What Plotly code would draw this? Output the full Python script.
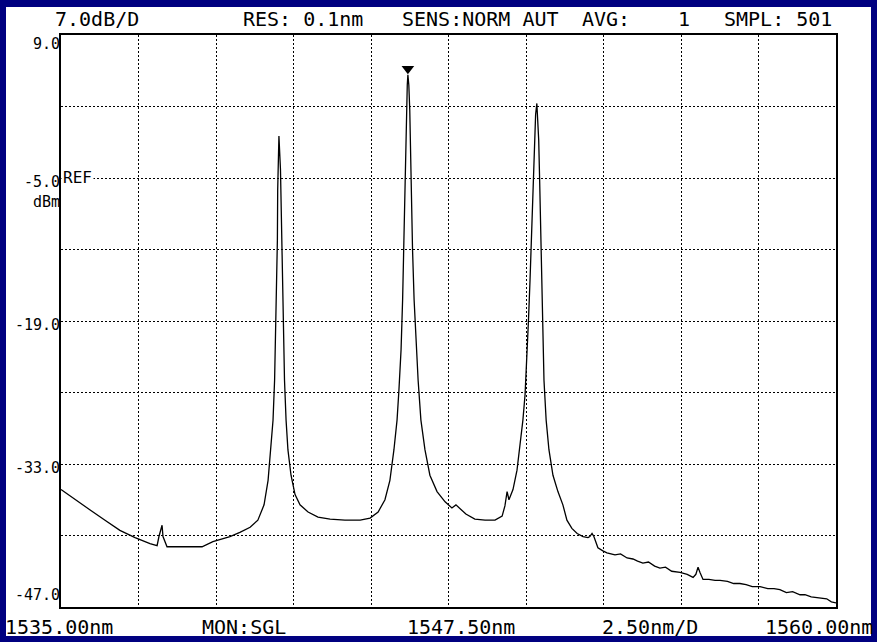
import plotly.graph_objects as go

# ---------------- data ----------------
wavelength_nm = [
    1535.00, 1535.45, 1535.94, 1536.42, 1536.90, 1537.39, 1537.87, 1538.10, 1538.16, 1538.26,
    1538.29, 1538.42, 1539.00, 1539.55, 1539.90, 1540.13, 1540.45, 1540.77, 1541.10, 1541.35,
    1541.55, 1541.68, 1541.77, 1541.84, 1541.89, 1541.92, 1541.95, 1541.98, 1541.99, 1542.01,
    1542.03,
    1542.08, 1542.10, 1542.12, 1542.14, 1542.17, 1542.21, 1542.26, 1542.32, 1542.42, 1542.55,
    1542.71, 1542.97, 1543.29, 1543.68, 1544.16, 1544.65, 1544.97, 1545.23, 1545.45, 1545.61,
    1545.74, 1545.84, 1545.90, 1545.97, 1546.02, 1546.05, 1546.08, 1546.11, 1546.15, 1546.17,
    1546.19,
    1546.22, 1546.25, 1546.27, 1546.31, 1546.34, 1546.39, 1546.45, 1546.52, 1546.61, 1546.74,
    1546.90, 1547.13, 1547.39, 1547.61, 1547.74, 1547.87, 1548.06, 1548.35, 1548.68, 1549.00,
    1549.23, 1549.32, 1549.39, 1549.45, 1549.58, 1549.71, 1549.81, 1549.90, 1549.97, 1550.03,
    1550.08, 1550.13, 1550.18, 1550.23, 1550.27, 1550.31,
    1550.35,
    1550.37, 1550.41, 1550.44, 1550.47, 1550.50, 1550.53, 1550.58, 1550.65, 1550.74, 1550.87,
    1551.03, 1551.19, 1551.32, 1551.48, 1551.65, 1551.84, 1552.00, 1552.06, 1552.13, 1552.19,
    1552.26, 1552.32, 1552.48, 1552.61, 1552.87, 1553.05, 1553.26, 1553.45, 1553.60, 1553.77,
    1553.95, 1554.15, 1554.32, 1554.50, 1554.70, 1554.97, 1555.20, 1555.39, 1555.48, 1555.55,
    1555.61, 1555.71, 1555.90, 1556.10, 1556.26, 1556.50, 1556.70, 1556.90, 1557.10, 1557.30,
    1557.55, 1557.80, 1558.00, 1558.19, 1558.40, 1558.60, 1558.84, 1559.00, 1559.20, 1559.48,
    1559.70, 1559.85, 1560.00,
]
power_dbm = [
    -35.5, -36.5, -37.5, -38.5, -39.5, -40.2, -40.8, -41.0, -40.1, -39.0,
    -40.1, -41.1, -41.1, -41.1, -40.6, -40.4, -40.1, -39.7, -39.2, -38.5,
    -37.0, -34.6, -31.6, -28.7, -24.8, -20.9, -16.0, -11.1, -6.2, -3.2,
    -0.9,
    -4.2, -7.2, -11.1, -16.0, -20.9, -24.8, -28.7, -31.6, -34.1, -36.0,
    -37.0, -37.7, -38.2, -38.4, -38.5, -38.5, -38.3, -37.7, -36.5, -34.6,
    -31.6, -28.7, -25.8, -21.8, -16.9, -12.0, -7.2, -2.3, 1.7, 4.1,
    5.1,
    4.1, 1.7, -2.3, -7.2, -12.0, -16.9, -20.9, -24.8, -28.7, -31.6,
    -34.1, -35.7, -36.7, -37.3, -37.0, -37.4, -37.9, -38.4, -38.5, -38.5,
    -38.1, -37.1, -35.7, -36.5, -35.5, -33.6, -31.1, -28.7, -26.2, -22.8,
    -18.9, -15.0, -10.1, -5.2, -1.3, 1.2,
    2.3,
    1.2, -1.3, -5.2, -10.1, -15.0, -19.9, -24.8, -28.7, -31.6, -34.1,
    -35.7, -37.0, -38.5, -39.3, -39.8, -40.1, -40.2, -40.1, -39.8, -40.1,
    -40.8, -41.2, -41.5, -41.7, -41.9, -41.8, -42.2, -42.3, -42.5, -42.7,
    -42.6, -43.0, -43.2, -43.1, -43.5, -43.6, -43.8, -44.1, -43.8, -43.1,
    -43.6, -44.3, -44.3, -44.4, -44.4, -44.5, -44.7, -44.7, -44.8, -45.0,
    -45.0, -45.2, -45.2, -45.3, -45.6, -45.5, -45.8, -45.8, -46.0, -46.1,
    -46.2, -46.5, -46.6,
]

x_start, x_stop, x_div = 1535.0, 1560.0, 2.5
y_bottom, y_top, y_div = -47.0, 9.0, 7.0
ytick_vals = [9.0, -5.0, -19.0, -33.0, -47.0]
ytick_text = ["9.0", "-5.0", "-19.0", "-33.0", "-47.0"]
ref_level = -5.0
unit_text = "dBm"

header_items = [("7.0dB/D", 53), ("RES: 0.1nm", 241), ("SENS:NORM AUT", 400),
                ("AVG:", 580), ("1", 676), ("SMPL: 501", 722)]
footer_items = [("1535.00nm", 3), ("MON:SGL", 200), ("1547.50nm", 405),
                ("2.50nm/D", 600), ("1560.00nm", 763)]

# ---------------- layout geometry ----------------
W, H = 877, 642
L, R, T, B = 61, 836, 35, 607   # plot area in pixels
PW, PH = R - L, B - T

def px_x(px):
    return (px - L) / PW

def px_y(py):
    return (B - py) / PH

FONT = "DejaVu Sans Mono"
NAVY = "#000080"

fig = go.Figure()
fig.add_trace(go.Scatter(x=wavelength_nm, y=power_dbm, mode="lines",
                         line=dict(color="black", width=1.3), hoverinfo="skip"))

# peak marker
pk = max(range(len(power_dbm)), key=lambda i: power_dbm[i])
fig.add_trace(go.Scatter(x=[wavelength_nm[pk]], y=[power_dbm[pk] + 0.6], mode="markers",
                         marker=dict(symbol="triangle-down", size=11, color="black"),
                         hoverinfo="skip"))

annotations = []
for txt, x in header_items:
    annotations.append(dict(text=txt, x=px_x(x), y=px_y(19), xref="paper", yref="paper",
                            xanchor="left", yanchor="middle", showarrow=False,
                            font=dict(family=FONT, size=20, color="black")))
for txt, x in footer_items:
    annotations.append(dict(text=txt, x=px_x(x), y=px_y(627), xref="paper", yref="paper",
                            xanchor="left", yanchor="middle", showarrow=False,
                            font=dict(family=FONT, size=20, color="black")))
for v, t in zip(ytick_vals, ytick_text):
    if v == y_bottom:
        anc, shift = "bottom", 1
    elif v == y_top:
        anc, shift = "top", 2
    elif v == ref_level:
        anc, shift = "top", 7
        t = t + "<br>" + unit_text
    else:
        anc, shift = "middle", -4
    annotations.append(dict(text=t, x=0, y=v, xref="paper", yref="y",
                            xanchor="right", yanchor=anc, yshift=shift, xshift=1,
                            align="right", showarrow=False,
                            font=dict(family=FONT, size=15, color="black")))
annotations.append(dict(text="REF", x=0, y=ref_level, xref="paper", yref="y",
                        xanchor="left", yanchor="middle", xshift=0, yshift=1, showarrow=False,
                        bgcolor="white",
                        font=dict(family=FONT, size=16, color="black")))

shapes = [dict(type="rect", xref="paper", yref="paper", layer="below",
               x0=px_x(6), x1=px_x(871), y0=px_y(636), y1=px_y(7),
               fillcolor="white", line=dict(width=0))]

fig.update_layout(
    width=W, height=H,
    margin=dict(l=L, r=W - R, t=T, b=H - B, pad=0),
    paper_bgcolor=NAVY, plot_bgcolor="white",
    showlegend=False,
    annotations=annotations, shapes=shapes,
    xaxis=dict(range=[x_start, x_stop], tick0=x_start, dtick=x_div, showticklabels=False,
               showgrid=True, gridcolor="black", gridwidth=1, griddash="2px,2px",
               zeroline=False, showline=True, linecolor="black", linewidth=1.5, mirror=True,
               ticks=""),
    yaxis=dict(range=[y_bottom, y_top], tick0=y_bottom, dtick=y_div, showticklabels=False,
               showgrid=True, gridcolor="black", gridwidth=1, griddash="2px,2px",
               zeroline=False, showline=True, linecolor="black", linewidth=1.5, mirror=True,
               ticks=""),
)

fig.write_html("out.html")
